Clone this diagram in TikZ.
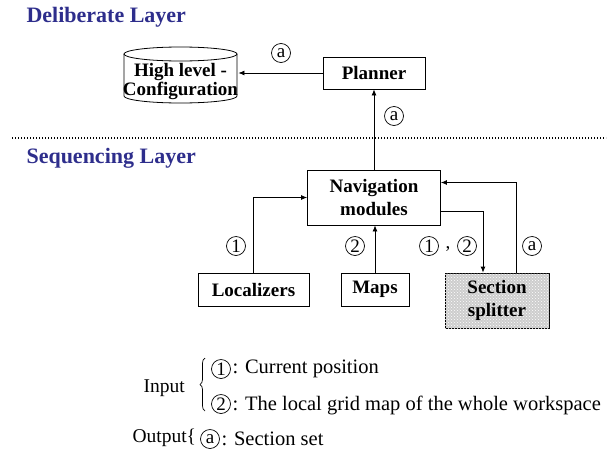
\documentclass[tikz,border=0pt]{standalone}
\usepackage{fontspec}
\setmainfont{Liberation Serif}
\usetikzlibrary{arrows.meta,decorations.pathreplacing,patterns}

\definecolor{layerblue}{RGB}{46,46,140}
\definecolor{splitgray}{RGB}{205,205,205}

\tikzset{
  box/.style={draw, line width=0.8pt, align=center, inner sep=0pt,
    font=\fontsize{19}{23}\selectfont\bfseries},
  tag/.style={circle, draw, line width=0.7pt, inner sep=0pt, minimum size=19pt,
    font=\fontsize{19}{19}\selectfont},
  flow/.style={line width=0.8pt, -{Latex[length=6pt,width=5pt]}},
  layer/.style={anchor=west, text=layerblue, font=\fontsize{22}{24}\selectfont\bfseries},
  legend/.style={anchor=west, font=\fontsize{19.5}{22}\selectfont},
  keytext/.style={anchor=west, font=\fontsize{20.5}{22}\selectfont}
}

\begin{document}
\begin{tikzpicture}[x=1pt,y=-1pt]

  % Page frame (pixel grid of the reference, y pointing down)
  \useasboundingbox (0,0) rectangle (612,450);

  % Layer titles and the dotted border between them
  \node[layer] (deliberate) at (23,17) {Deliberate Layer};
  \node[layer] (sequencing) at (23,158) {Sequencing Layer};
  \draw[line width=1.3pt, dash pattern=on 1.3pt off 1.7pt] (12,138) -- (606,138);

  % High level configuration store, drawn as a cylinder
  \draw[line width=0.8pt] (180.5,54) ellipse [x radius=56.5pt, y radius=7pt];
  \draw[line width=0.8pt] (124,54) -- (124,96)
    arc [start angle=180, end angle=360, x radius=56.5pt, y radius=7pt] -- (237,54);
  \node[box, draw=none, minimum width=113pt, minimum height=40pt,
    font=\fontsize{19}{19}\selectfont\bfseries] (cfg) at (180.5,81.5)
    {High level -\\Configuration};

  % Boxes
  \node[box, minimum width=102pt, minimum height=32pt] (planner) at (374,73) {Planner};
  \node[box, minimum width=133pt, minimum height=55pt] (nav) at (374,197.5)
    {Navigation\\modules};
  \node[box, minimum width=111pt, minimum height=33pt] (loc) at (253.5,289.5) {Localizers};
  \node[box, minimum width=68pt, minimum height=33pt] (maps) at (375,289.5) {Maps};
  \node[box, minimum width=104pt, minimum height=55pt, fill=splitgray,
    postaction={pattern=crosshatch dots, pattern color=white}] (split) at (497,300.5)
    {Section\\splitter};

  % Connectors
  \draw[flow] (planner.west) -- (planner.west -| cfg.east);
  \draw[flow] (nav.north) -- (planner.south);
  \draw[flow] (loc.north) |- (nav.west);
  \draw[flow] (maps.north) -- (maps.north |- nav.south);
  \draw[flow] ([yshift=-14pt]nav.east) -| ([xshift=-14pt]split.north);
  \draw[flow] ([xshift=19pt]split.north) |- ([yshift=15pt]nav.east);

  % Data tags on the connectors
  \node[tag] (tagcfg) at (281,53) {a};
  \node[tag] (tagplan) at (394,116) {a};
  \node[tag] (tagloc) at (236,246) {1};
  \node[tag] (tagmaps) at (355,246) {2};
  \node[tag] (tagin1) at (429,246) {1};
  \node[font=\fontsize{19}{19}\selectfont] (comma) at (448,249) {,};
  \node[tag] (tagin2) at (467,246) {2};
  \node[tag] (tagout) at (532,246) {a};

  % Legend
  \node[legend] (input) at (140,388) {Input};
  \draw[line width=0.7pt, decorate, decoration={brace, amplitude=5pt}] (205,411) -- (205,358);
  \node[tag] (key1) at (221,369) {1};
  \node[keytext] (key1txt) at (229,369) {: Current position};
  \node[tag] (key2) at (221,404) {2};
  \node[keytext] (key2txt) at (229,405) {: The local grid map of the whole workspace};
  \node[legend] (output) at (129,438) {Output\{};
  \node[tag] (keya) at (210,439) {a};
  \node[keytext] (keyatxt) at (218,439) {: Section set};

\end{tikzpicture}
\end{document}
